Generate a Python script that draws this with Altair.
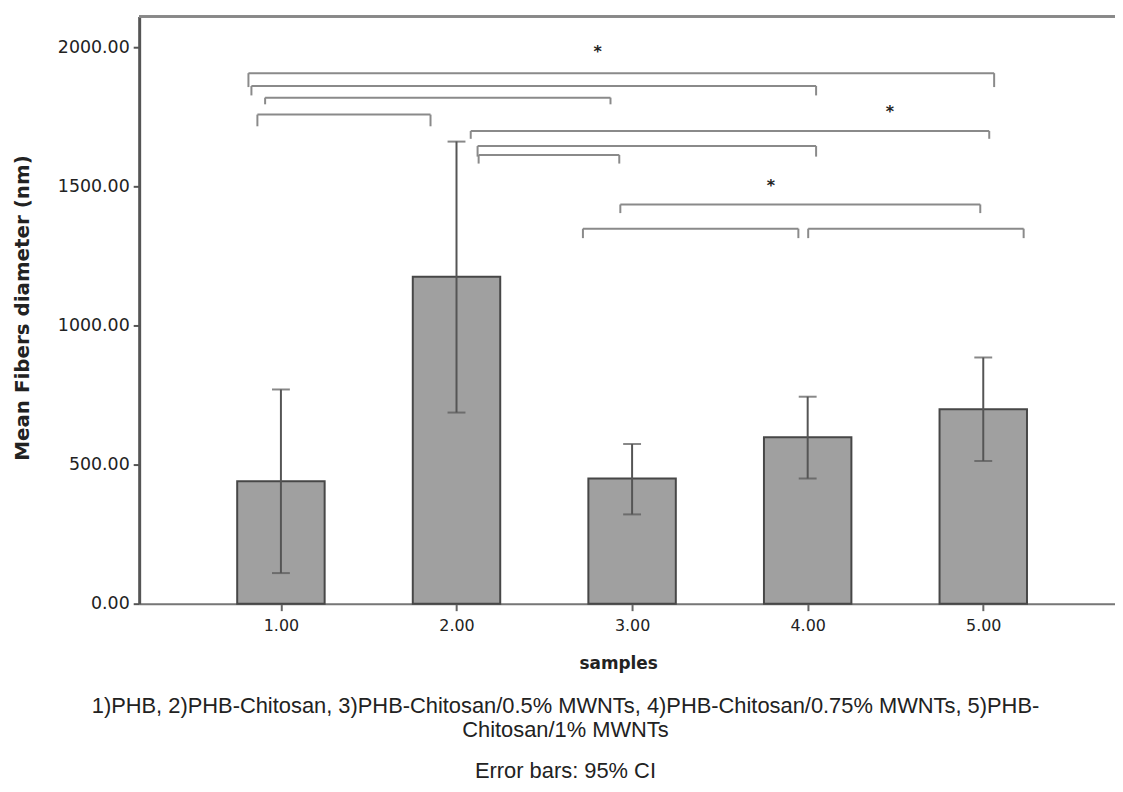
import altair as alt
import pandas as pd

# ---- data ----
samples = [1, 2, 3, 4, 5]
means = [440, 1175, 450, 598, 699]
ci_low = [110, 687, 321, 450, 513]
ci_high = [770, 1661, 574, 744, 885]

# significance brackets (data units)
br_x1 = [0.815, 0.832, 0.910, 0.866, 2.081, 2.120, 2.126, 2.933, 2.720, 4.003]
br_x2 = [5.062, 4.048, 2.877, 1.852, 5.034, 4.048, 2.927, 4.983, 3.947, 5.230]
br_y = [1907, 1861, 1819, 1758, 1699, 1645, 1613, 1435, 1348, 1348]
br_leg = [1857, 1827, 1795, 1716, 1671, 1607, 1582, 1404, 1314, 1314]

star_x = [2.804, 4.468, 3.790]
star_y = [1996, 1782, 1514]

y_ticks = [0, 500, 1000, 1500, 2000]

caption_lines = [
    "1)PHB, 2)PHB-Chitosan, 3)PHB-Chitosan/0.5% MWNTs, 4)PHB-Chitosan/0.75% MWNTs, 5)PHB-",
    "Chitosan/1% MWNTs",
]
caption_note = "Error bars: 95% CI"

bars_df = pd.DataFrame({"s": samples, "m": means, "lo": ci_low, "hi": ci_high})
br_df = pd.DataFrame({"x1": br_x1, "x2": br_x2, "y": br_y, "leg": br_leg})
star_df = pd.DataFrame({"x": star_x, "y": star_y, "t": ["*"] * len(star_x)})

W, H = 982, 591
xs = alt.Scale(domain=[0.221, 5.722], nice=False, zero=False)
ys = alt.Scale(domain=[0, 2111], nice=False)

x_axis = alt.Axis(
    values=samples, format=".2f", title="samples", grid=False,
    labelFont="DejaVu Sans", labelFontSize=16, labelColor="#222", labelPadding=7,
    tickSize=7, tickWidth=2, tickColor="#666",
    domainColor="#777", domainWidth=2,
    titleFont="DejaVu Sans", titleFontWeight="bold", titleFontSize=17, titleColor="#222",
    titleX=482, titleY=60, titleBaseline="middle",
)
y_axis = alt.Axis(
    values=y_ticks, format=".2f", title="Mean Fibers diameter (nm)", grid=False,
    labelFont="DejaVu Sans", labelFontSize=17.5, labelColor="#222", labelPadding=4,
    tickSize=6, tickWidth=2, tickColor="#555",
    domainColor="#555", domainWidth=3,
    titleFont="DejaVu Sans", titleFontWeight="bold", titleFontSize=20, titleColor="#222",
    titleX=-117, titleY=293, titleAngle=-90, titleBaseline="middle", titleAlign="center",
)

base = alt.Chart(bars_df)
bars = base.mark_bar(size=88, color="#a0a0a0", stroke="#474747", strokeWidth=2).encode(
    x=alt.X("s:Q", scale=xs, axis=x_axis),
    y=alt.Y("m:Q", scale=ys, axis=y_axis),
)
err = base.mark_rule(color="#555", strokeWidth=2).encode(x="s:Q", y="lo:Q", y2="hi:Q")
cap_hi = base.mark_tick(orient="horizontal", size=18, thickness=2, color="#555").encode(x="s:Q", y="hi:Q")
cap_lo = base.mark_tick(orient="horizontal", size=18, thickness=2, color="#555").encode(x="s:Q", y="lo:Q")

bb = alt.Chart(br_df)
br_h = bb.mark_rule(color="#8a8a8a", strokeWidth=2).encode(x="x1:Q", x2="x2:Q", y="y:Q")
br_l = bb.mark_rule(color="#8a8a8a", strokeWidth=2).encode(x="x1:Q", y="y:Q", y2="leg:Q")
br_r = bb.mark_rule(color="#8a8a8a", strokeWidth=2).encode(x="x2:Q", y="y:Q", y2="leg:Q")

stars = alt.Chart(star_df).mark_text(
    font="DejaVu Sans", fontWeight="bold", fontSize=16, color="#222", baseline="middle", dy=4
).encode(x="x:Q", y="y:Q", text="t:N")

top_frame = alt.Chart(bars_df).mark_rule(color="#888", strokeWidth=2).encode(
    x=alt.value(0), x2=alt.value(W), y=alt.value(0)
)

chart = alt.layer(
    bars, err, cap_hi, cap_lo, br_h, br_l, br_r, stars, top_frame
).properties(
    width=W, height=H,
    autosize=alt.AutoSizeParams(type="none"),
    padding={"left": 132, "top": 6, "right": 0, "bottom": 180},
    title=alt.TitleParams(
        text=caption_lines,
        subtitle=caption_note,
        orient="bottom", anchor="middle", dx=-62, offset=25,
        font="Liberation Sans", fontSize=22, fontWeight="normal", color="#222",
        lineHeight=24,
        subtitleFont="Liberation Sans", subtitleFontSize=22, subtitleColor="#222",
        subtitlePadding=19,
    ),
).configure_view(stroke=None).configure(background="white")

chart.save("out.html", embed_options={"renderer": "svg", "actions": False})
